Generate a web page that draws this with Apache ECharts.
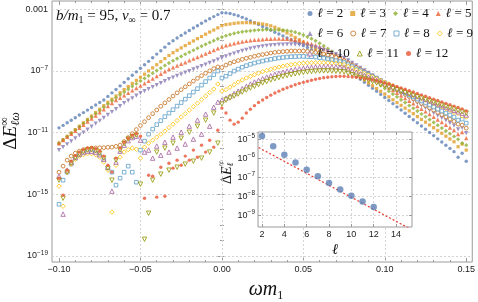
<!DOCTYPE html>
<html>
<head>
<meta charset="utf-8">
<script src="https://cdn.jsdelivr.net/npm/echarts@6/dist/echarts.min.js"></script>
<style>
  html, body { margin: 0; padding: 0; background: #fff; }
  #chart { width: 478px; height: 302px; }
</style>
</head>
<body>
<div id="chart"></div>
<script>
// omega * m1 sample grid
const omega = [-0.1,-0.0975,-0.095,-0.0925,-0.09,-0.0875,-0.085,-0.0825,-0.08,-0.0775,-0.075,-0.0725,-0.07,-0.0675,-0.065,-0.0625,-0.06,-0.0575,-0.055,-0.0525,-0.05,-0.0475,-0.045,-0.0425,-0.04,-0.0375,-0.035,-0.0325,-0.03,-0.0275,-0.025,-0.0225,-0.02,-0.0175,-0.015,-0.0125,-0.01,-0.0075,-0.005,-0.0025,0,0.0025,0.005,0.0075,0.01,0.0125,0.015,0.0175,0.02,0.0225,0.025,0.0275,0.03,0.0325,0.035,0.0375,0.04,0.0425,0.045,0.0475,0.05,0.0525,0.055,0.0575,0.06,0.0625,0.065,0.0675,0.07,0.0725,0.075,0.0775,0.08,0.0825,0.085,0.0875,0.09,0.0925,0.095,0.0975,0.1,0.1025,0.105,0.1075,0.11,0.1125,0.115,0.1175,0.12,0.1225,0.125,0.1275,0.13,0.1325,0.135,0.1375,0.14,0.1425,0.145,0.1475,0.15];

// log10 of Delta E_{l omega}, one array per l
const logE2 = [-10.70,-10.54,-10.37,-10.21,-10.04,-9.87,-9.71,-9.55,-9.38,-9.22,-9.05,-8.89,-8.66,-8.43,-8.21,-7.98,-7.75,-7.52,-7.29,-7.07,-6.84,-6.61,-6.39,-6.16,-5.92,-5.70,-5.47,-5.24,-5.06,-4.88,-4.71,-4.55,-4.39,-4.23,-4.08,-3.92,-3.77,-3.63,-3.49,-3.36,-3.24,
  -3.25,-3.29,-3.36,-3.44,-3.54,-3.65,-3.77,-3.88,-4.01,-4.13,-4.25,-4.37,-4.50,-4.62,-4.74,-4.87,-4.99,-5.11,-5.24,-5.37,-5.50,-5.63,-5.76,-5.90,-6.04,-6.18,-6.33,-6.49,-6.65,-6.82,-7.00,-7.18,-7.36,-7.55,-7.75,-7.94,-8.14,-8.33,-8.53,-8.73,-8.93,-9.13,-9.34,-9.54,-9.75,-9.96,-10.17,-10.37,-10.58,-10.79,-11.00,-11.20,-11.41,-11.62,-11.83,-12.03,-12.24,-12.60,-12.34,-12.86];
const logE3 = [-11.69,-11.47,-11.25,-11.03,-10.81,-10.59,-10.37,-10.15,-9.93,-9.71,-9.49,-9.26,-9.04,-8.84,-8.63,-8.42,-8.22,-8.02,-7.82,-7.62,-7.42,-7.22,-7.01,-6.81,-6.61,-6.41,-6.21,-6.01,-5.83,-5.67,-5.52,-5.37,-5.22,-5.07,-4.92,-4.78,-4.63,-4.49,-4.36,-4.22,-4.08,
  -4.01,-3.97,-3.93,-3.90,-3.89,-3.88,-3.89,-3.91,-3.93,-3.97,-4.02,-4.09,-4.18,-4.29,-4.41,-4.55,-4.69,-4.84,-4.99,-5.14,-5.29,-5.44,-5.59,-5.74,-5.89,-6.05,-6.20,-6.37,-6.53,-6.70,-6.88,-7.06,-7.24,-7.42,-7.60,-7.79,-7.97,-8.15,-8.33,-8.51,-8.69,-8.88,-9.06,-9.24,-9.42,-9.60,-9.78,-9.97,-10.15,-10.33,-10.51,-10.69,-10.87,-11.05,-11.24,-11.42,-11.60,-11.92,-11.75,-12.14];
const logE4 = [-11.69,-11.48,-11.26,-11.05,-10.84,-10.63,-10.41,-10.20,-9.99,-9.78,-9.58,-9.36,-9.15,-8.94,-8.75,-8.56,-8.38,-8.19,-8.01,-7.84,-7.66,-7.49,-7.33,-7.16,-6.99,-6.83,-6.66,-6.50,-6.35,-6.21,-6.07,-5.93,-5.80,-5.67,-5.54,-5.41,-5.29,-5.17,-5.05,-4.93,-4.82,
  -4.73,-4.65,-4.58,-4.52,-4.48,-4.44,-4.41,-4.38,-4.36,-4.35,-4.34,-4.34,-4.35,-4.36,-4.37,-4.39,-4.44,-4.50,-4.59,-4.69,-4.80,-4.92,-5.06,-5.22,-5.39,-5.57,-5.75,-5.93,-6.12,-6.31,-6.49,-6.68,-6.86,-7.04,-7.23,-7.41,-7.59,-7.77,-7.96,-8.14,-8.32,-8.51,-8.69,-8.88,-9.06,-9.25,-9.43,-9.61,-9.80,-9.98,-10.16,-10.35,-10.53,-10.71,-10.90,-11.08,-11.26,-11.44,-11.69,-11.82];
const logE5 = [-11.70,-11.49,-11.29,-11.09,-10.89,-10.70,-10.50,-10.30,-10.10,-9.90,-9.70,-9.50,-9.30,-9.10,-8.90,-8.75,-8.59,-8.44,-8.28,-8.13,-7.97,-7.82,-7.66,-7.51,-7.35,-7.20,-7.04,-6.89,-6.78,-6.67,-6.56,-6.45,-6.33,-6.22,-6.11,-6.00,-5.89,-5.78,-5.66,-5.55,-5.44,
  -5.36,-5.29,-5.22,-5.16,-5.11,-5.07,-5.03,-5.00,-4.98,-4.96,-4.94,-4.93,-4.92,-4.92,-4.93,-4.94,-4.96,-5.00,-5.05,-5.11,-5.18,-5.26,-5.35,-5.45,-5.56,-5.68,-5.80,-5.93,-6.06,-6.19,-6.36,-6.54,-6.71,-6.88,-7.05,-7.23,-7.40,-7.57,-7.74,-7.92,-8.09,-8.26,-8.43,-8.61,-8.78,-8.95,-9.12,-9.30,-9.47,-9.64,-9.81,-9.99,-10.16,-10.33,-10.50,-10.68,-10.85,-11.10,-10.98,-11.37];
const logE6 = [-12.14,-11.95,-11.76,-11.57,-11.38,-11.19,-11.00,-10.81,-10.62,-10.43,-10.24,-10.05,-9.86,-9.67,-9.48,-9.29,-9.10,-8.94,-8.78,-8.61,-8.45,-8.32,-8.19,-8.06,-7.93,-7.80,-7.67,-7.54,-7.44,-7.33,-7.23,-7.12,-7.02,-6.91,-6.81,-6.70,-6.60,-6.49,-6.39,-6.28,-6.18,
  -6.07,-5.97,-5.88,-5.79,-5.71,-5.64,-5.57,-5.51,-5.46,-5.42,-5.38,-5.35,-5.33,-5.31,-5.30,-5.29,-5.29,-5.30,-5.32,-5.35,-5.39,-5.44,-5.50,-5.57,-5.65,-5.74,-5.84,-5.94,-6.05,-6.16,-6.32,-6.49,-6.65,-6.81,-6.97,-7.14,-7.30,-7.46,-7.62,-7.79,-7.95,-8.11,-8.27,-8.44,-8.60,-8.76,-8.92,-9.09,-9.25,-9.41,-9.57,-9.74,-9.90,-10.06,-10.22,-10.39,-10.55,-10.80,-10.70,-11.04];
const logE7 = [-13.57,-13.18,-12.79,-12.53,-12.34,-12.21,-12.11,-12.05,-12.01,-12.00,-11.99,-11.98,-11.96,-11.95,-11.90,
  -11.82,-11.59,-11.33,-11.07,-10.81,-10.55,-10.30,-10.04,-9.78,-9.54,-9.30,-9.08,-8.86,-8.64,-8.43,-8.23,-8.04,-7.85,-7.67,-7.49,-7.32,-7.16,-7.01,-6.86,-6.75,-6.79,-6.63,
  -6.51,-6.42,-6.34,-6.26,-6.19,-6.13,-6.06,-6.00,-5.95,-5.90,-5.85,-5.81,-5.78,-5.76,-5.74,-5.72,-5.72,-5.72,-5.72,-5.74,-5.77,-5.81,-5.85,-5.91,-5.98,-6.06,-6.14,-6.24,-6.34,
  -6.49,-6.63,-6.78,-6.92,-7.07,-7.21,-7.36,-7.51,-7.66,-7.80,-7.95,-8.09,-8.24,-8.38,-8.53,-8.67,-8.82,-8.97,-9.12,-9.26,-9.41,-9.55,-9.70,-9.84,-9.99,-10.13,-10.28,-10.46,-10.52,-10.72];
const logE8 = [-15.65,-14.09,-13.57,-13.05,-12.69,-12.47,-12.34,-12.27,-12.27,-12.34,-12.50,-12.79,-13.31,-13.57,-14.41,-13.96,-13.57,-13.18,-13.57,-14.22,
  -12.14,-11.56,-11.11,-10.78,-10.49,-10.23,-9.97,-9.74,-9.52,-9.29,-9.06,-8.84,-8.61,-8.38,-8.16,-7.93,-7.70,-7.47,-7.25,-7.02,
  -7.47,-7.35,-7.18,-7.02,-6.89,-6.77,-6.67,-6.58,-6.50,-6.43,-6.37,-6.31,-6.26,-6.21,-6.17,-6.14,-6.11,-6.09,-6.08,-6.07,-6.07,-6.08,-6.09,-6.11,-6.15,-6.18,-6.23,-6.28,-6.34,-6.40,-6.47,
  -6.60,-6.73,-6.87,-6.99,-7.12,-7.25,-7.38,-7.52,-7.65,-7.78,-7.91,-8.04,-8.17,-8.30,-8.43,-8.56,-8.69,-8.83,-8.96,-9.09,-9.22,-9.35,-9.49,-9.61,-9.74,-9.87,-10.00,-10.20,-10.13,-10.39];
const logE9 = [-14.48,-15.78,-13.57,-13.05,-12.73,-12.53,-12.44,-12.37,-12.37,-12.44,-12.60,-12.92,-13.44,-16.16,-13.12,-12.60,-12.27,-12.11,-12.01,-12.08,
  -12.66,-11.95,-11.69,-11.50,-11.30,-11.11,-10.91,-10.68,-10.46,-10.23,-10.00,-9.78,-9.55,-9.32,-9.10,-8.87,-8.64,-8.41,-8.19,-7.86,
  -8.32,-8.22,-8.06,-7.90,-7.73,-7.60,-7.47,-7.36,-7.25,-7.15,-7.06,-6.98,-6.90,-6.83,-6.76,-6.70,-6.65,-6.61,-6.57,-6.53,-6.51,-6.49,-6.48,-6.47,-6.47,-6.48,-6.49,-6.51,-6.53,-6.57,-6.61,
  -6.72,-6.84,-6.95,-7.06,-7.18,-7.29,-7.40,-7.52,-7.63,-7.75,-7.86,-7.97,-8.09,-8.20,-8.31,-8.43,-8.54,-8.65,-8.77,-8.88,-8.99,-9.11,-9.22,-9.33,-9.45,-9.56,-9.70,-9.75,-9.93,-10.00];
const logE10 = [-13.83,-16.29,-13.44,-12.92,-12.60,-12.40,-12.27,-12.21,-12.21,-12.27,-12.44,-12.73,-13.25,-14.80,-12.92,-12.21,-11.82,-11.53,-11.33,-11.24,
  -11.50,-12.27,-12.14,-12.66,-11.88,-12.47,-11.63,-12.27,-11.30,-12.01,-10.98,-11.75,-10.59,-11.43,-10.20,-11.11,-9.81,-10.59,-9.36,-9.03,
  -8.90,-8.77,-8.64,-8.48,-8.32,-8.16,-8.01,-7.86,-7.73,-7.62,-7.51,-7.41,-7.32,-7.23,-7.16,-7.09,-7.02,-6.96,-6.91,-6.87,-6.83,-6.79,-6.77,-6.75,-6.74,-6.73,-6.73,-6.74,-6.75,-6.77,-6.79,
  -6.89,-7.00,-7.10,-7.20,-7.30,-7.41,-7.51,-7.61,-7.71,-7.82,-7.92,-8.02,-8.12,-8.23,-8.33,-8.43,-8.53,-8.64,-8.74,-8.84,-8.94,-9.05,-9.15,-9.25,-9.35,-9.46,-9.56,-9.66,-9.76,-9.87];
const logE11 = [-14.09,-15.26,-13.57,-12.99,-12.63,-12.40,-12.24,-12.14,-12.11,-12.18,-12.34,-12.66,-13.31,-14.09,-12.79,-12.14,-11.72,-11.43,-11.27,-11.17,
  -14.35,-17.92,-16.23,-14.09,-12.27,-13.70,-12.01,-13.44,-11.69,-13.25,-11.37,-13.05,-10.98,-12.86,-10.59,-12.66,-10.20,-12.27,-9.74,-11.69,
  -9.16,-8.90,-8.77,-8.64,-8.51,-8.38,-8.25,-8.12,-8.01,-7.90,-7.79,-7.70,-7.60,-7.52,-7.44,-7.37,-7.31,-7.25,-7.20,-7.15,-7.11,-7.08,-7.05,-7.03,-7.02,-7.01,-7.01,-7.02,-7.03,-7.05,-7.08,
  -7.17,-7.26,-7.35,-7.44,-7.52,-7.61,-7.70,-7.79,-7.88,-7.97,-8.06,-8.15,-8.23,-8.32,-8.41,-8.50,-8.59,-8.68,-8.77,-8.86,-8.95,-9.03,-9.12,-9.21,-9.30,-9.39,-9.48,-9.57,-9.66,-9.74];
const logE12 = [-13.96,-15.06,-13.44,-12.86,-12.50,-12.27,-12.11,-12.01,-11.98,-12.05,-12.21,-12.53,-13.12,-13.57,-12.66,-12.01,-11.63,-11.37,-11.17,-11.07,
  -11.24,-15.26,-13.77,-13.83,-15.19,-13.25,-15.13,-12.99,-13.31,-12.79,-13.12,-12.53,-12.79,-12.14,-12.60,-11.82,-12.27,-11.50,-11.95,-10.85,
  -9.42,-9.74,-10.20,-10.46,-10.33,-10.07,-9.74,-9.49,-9.26,-9.06,-8.89,-8.73,-8.58,-8.44,-8.32,-8.20,-8.10,-8.00,-7.91,-7.82,-7.75,-7.68,-7.61,-7.55,-7.50,-7.45,-7.42,-7.39,-7.37,-7.36,-7.36,
  -7.38,-7.40,-7.42,-7.45,-7.49,-7.54,-7.59,-7.65,-7.71,-7.79,-7.86,-7.94,-8.03,-8.11,-8.20,-8.29,-8.38,-8.47,-8.56,-8.65,-8.75,-8.84,-8.93,-9.02,-9.11,-9.20,-9.29,-9.38,-9.47,-9.61];

const ells = [2, 3, 4, 5, 6, 7, 8, 9, 10, 11, 12];
const seriesLogs = [logE2, logE3, logE4, logE5, logE6, logE7, logE8, logE9, logE10, logE11, logE12];

// inset: total Delta E_l vs l, and the fitted line
const insetEll = [2, 3, 4, 5, 6, 7, 8, 9, 10, 11, 12];
const insetLogE = [-4.84, -5.38, -5.83, -6.23, -6.62, -6.96, -7.32, -7.65, -7.99, -8.29, -8.58];
const fitEll = [1.7, 15.4];
const fitLogE = [-5.45, -9.77];

// tick positions
const xMajor = [-0.1, -0.05, 0, 0.05, 0.1, 0.15];
const xMinor = [-0.1,-0.09,-0.08,-0.07,-0.06,-0.05,-0.04,-0.03,-0.02,-0.01,0,0.01,0.02,0.03,0.04,0.05,0.06,0.07,0.08,0.09,0.1,0.11,0.12,0.13,0.14,0.15];
const yMajor = [-19, -15, -11, -7, -3];
const yMinor = [-19,-18,-17,-16,-15,-14,-13,-12,-11,-10,-9,-8,-7,-6,-5,-4,-3];
const xGridLines = [-0.05, 0, 0.05, 0.1];
const yGridLines = [-19, -15, -11, -7, -3];
const insetXMajor = [2, 4, 6, 8, 10, 12, 14];
const insetYMajor = [-9, -8, -7, -6, -5];

const colors = ['#5E81B5','#E19C24','#8FB032','#EB6235','#8778B3','#C56E1A','#5D9EC7','#FFBF00','#A5609D','#929600','#E95536'];
const shapes = [
  { symbol: 'circle', size: 3.4, rot: 0, open: false },
  { symbol: 'rect', size: 3.2, rot: 0, open: false },
  { symbol: 'diamond', size: 4.2, rot: 0, open: false },
  { symbol: 'triangle', size: 4.2, rot: 0, open: false },
  { symbol: 'triangle', size: 4.2, rot: 180, open: false },
  { symbol: 'circle', size: 3.8, rot: 0, open: true },
  { symbol: 'rect', size: 3.6, rot: 0, open: true },
  { symbol: 'diamond', size: 4.4, rot: 0, open: true },
  { symbol: 'triangle', size: 4.4, rot: 0, open: true },
  { symbol: 'triangle', size: 4.4, rot: 180, open: true },
  { symbol: 'circle', size: 3.4, rot: 0, open: false }
];

const frameColor = '#9a9a9a';
const gridColor = '#d4d4d4';
const sans = '"Liberation Sans", Arial, sans-serif';
const serif = '"Liberation Serif", "DejaVu Serif", serif';

const chart = echarts.init(document.getElementById('chart'), null, { renderer: 'canvas' });

function fmtX(v) {
  if (Math.abs(v) < 1e-9) return '0.00';
  return (v < 0 ? '\u2212' : '') + Math.abs(v).toFixed(2);
}
function fmtPow(v) {
  if (v === -3) return '0.001';
  return '{b|10}{s|\u2212' + (-v) + '}';
}
const powRich = {
  b: { fontFamily: sans, fontSize: 9, lineHeight: 12, color: '#222' },
  s: { fontFamily: sans, fontSize: 6.5, lineHeight: 5, verticalAlign: 'top', color: '#222' }
};

function tickAxis(o) {
  return {
    type: 'value', gridIndex: o.grid, position: o.pos, min: o.min, max: o.max,
    z: o.z || 0,
    axisLine: { show: false },
    splitLine: { show: false },
    axisTick: { show: true, inside: true, length: o.len, customValues: o.ticks, lineStyle: { color: frameColor, width: 1 } },
    axisLabel: o.labels ? {
      show: true, customValues: o.labels, formatter: o.fmt, margin: o.margin,
      fontFamily: sans, fontSize: 9, color: '#222', rich: powRich
    } : { show: false }
  };
}

const xMin = -0.1043, xMax = 0.1537, yMin = -19.39, yMax = -2.48;
const ixMin = 1.64, ixMax = 15.43, iyMin = -9.63, iyMax = -4.63;

const xAxes = [
  tickAxis({ grid: 0, pos: 'bottom', min: xMin, max: xMax, len: 4, ticks: xMajor, labels: xMajor, fmt: fmtX, margin: 3 }),
  tickAxis({ grid: 0, pos: 'bottom', min: xMin, max: xMax, len: 2, ticks: xMinor }),
  tickAxis({ grid: 0, pos: 'top', min: xMin, max: xMax, len: 4, ticks: xMajor }),
  tickAxis({ grid: 0, pos: 'top', min: xMin, max: xMax, len: 2, ticks: xMinor }),
  tickAxis({ grid: 1, pos: 'bottom', min: ixMin, max: ixMax, len: 3, ticks: insetXMajor, labels: insetXMajor, fmt: v => String(v), margin: 3, z: 6 }),
  tickAxis({ grid: 1, pos: 'top', min: ixMin, max: ixMax, len: 3, ticks: insetXMajor, z: 6 })
];
const yAxes = [
  tickAxis({ grid: 0, pos: 'left', min: yMin, max: yMax, len: 4, ticks: yMajor, labels: yMajor, fmt: fmtPow, margin: 4 }),
  tickAxis({ grid: 0, pos: 'left', min: yMin, max: yMax, len: 2, ticks: yMinor }),
  tickAxis({ grid: 0, pos: 'right', min: yMin, max: yMax, len: 4, ticks: yMajor }),
  tickAxis({ grid: 0, pos: 'right', min: yMin, max: yMax, len: 2, ticks: yMinor }),
  tickAxis({ grid: 1, pos: 'left', min: iyMin, max: iyMax, len: 3, ticks: insetYMajor, labels: insetYMajor, fmt: fmtPow, margin: 3, z: 6 }),
  tickAxis({ grid: 1, pos: 'right', min: iyMin, max: iyMax, len: 3, ticks: insetYMajor, z: 6 })
];

const series = [];
// dashed grid lines of the main frame
series.push({
  type: 'line', xAxisIndex: 0, yAxisIndex: 0, data: [], silent: true, z: 1,
  markLine: {
    z: 1, silent: true, symbol: ['none', 'none'], label: { show: false }, animation: false,
    lineStyle: { color: gridColor, type: [2, 2], width: 1 },
    data: xGridLines.map(v => ({ xAxis: v })).concat(yGridLines.map(v => ({ yAxis: v })))
  }
});

const legendData = [];
ells.forEach((l, k) => {
  const s = shapes[k], c = colors[k];
  const name = '\u2113 = ' + l;
  const style = s.open ? { color: '#fff', borderColor: c, borderWidth: 1 } : { color: c, borderWidth: 0 };
  series.push({
    type: 'scatter', name: name, xAxisIndex: 0, yAxisIndex: 0,
    symbol: s.symbol, symbolSize: s.size, symbolRotate: s.rot,
    itemStyle: style, silent: true, z: 2,
    data: omega.map((w, i) => [w, seriesLogs[k][i]])
  });
  legendData.push({ name: name, itemStyle: style });
});

// inset grid lines
series.push({
  type: 'line', xAxisIndex: 4, yAxisIndex: 4, data: [], silent: true, z: 6,
  markLine: {
    z: 6, silent: true, symbol: ['none', 'none'], label: { show: false }, animation: false,
    lineStyle: { color: gridColor, type: [2, 2], width: 1 },
    data: insetXMajor.map(v => ({ xAxis: v })).concat(insetYMajor.map(v => ({ yAxis: v })))
  }
});
series.push({
  type: 'line', xAxisIndex: 4, yAxisIndex: 4, z: 7, silent: true, symbol: 'none',
  lineStyle: { color: '#e8392f', type: [2, 2], width: 1.2 },
  data: fitEll.map((l, i) => [l, fitLogE[i]])
});
series.push({
  type: 'scatter', xAxisIndex: 4, yAxisIndex: 4, z: 8, silent: true,
  symbol: 'circle', symbolSize: 6.5, itemStyle: { color: '#5E81B5' },
  data: insetEll.map((l, i) => [l, insetLogE[i]])
});

// math-style labels built from measured text pieces
const measureCtx = document.createElement('canvas').getContext('2d');
function pieceFont(p) { return (p.it ? 'italic ' : '') + p.size + 'px ' + serif; }
function mathLabel(pieces, x, y, rotation, anchor) {
  let cx = 0, prevStart = 0, prevW = 0;
  const kids = [];
  pieces.forEach(p => {
    const font = pieceFont(p);
    measureCtx.font = font;
    const w = measureCtx.measureText(p.t).width;
    const start = p.stack ? prevStart : cx;
    kids.push({ type: 'text', x: start, y: p.dy || 0,
      style: { text: p.t, font: font, fill: '#111', align: 'left', verticalAlign: 'middle', textAlign: 'left', textVerticalAlign: 'middle' } });
    if (p.stack) { cx = prevStart + Math.max(prevW, w); }
    else { prevStart = start; prevW = w; cx = start + w; }
  });
  kids.forEach(k => { k.x -= cx * anchor; });
  return { type: 'group', x: x, y: y, rotation: rotation, z: 20, children: kids };
}

const graphics = [
  mathLabel([
    { t: 'b/m', it: true, size: 15 }, { t: '1', size: 10, dy: 4 },
    { t: ' = 95, ', size: 15 }, { t: 'v', it: true, size: 15 }, { t: '\u221e', size: 10, dy: 4 },
    { t: ' = 0.7', size: 15 }
  ], 56, 16.5, 0, 0),
  mathLabel([
    { t: '\u03c9m', it: true, size: 20 }, { t: '1', size: 12, dy: 6 }
  ], 266, 290, 0, 0.5),
  mathLabel([
    { t: '\u0394', size: 19 }, { t: 'E', it: true, size: 19 },
    { t: '\u221e', size: 12, dy: -6 }, { t: '\u2113\u03c9', it: true, size: 12, dy: 5, stack: true }
  ], 11, 131, Math.PI / 2, 0.5),
  mathLabel([
    { t: '\u0394', size: 14 }, { t: 'E', it: true, size: 14 },
    { t: '\u221e', size: 9, dy: -5 }, { t: '\u2113', it: true, size: 9, dy: 4, stack: true }
  ], 227, 172, Math.PI / 2, 0.5),
  mathLabel([{ t: '\u2113', it: true, size: 15 }], 335, 250, 0, 0.5)
];

chart.setOption({
  animation: false,
  backgroundColor: '#fff',
  grid: [
    { left: 52, top: 1, right: 5, bottom: 40, show: true, borderColor: frameColor, borderWidth: 1, backgroundColor: 'transparent', z: 0 },
    { left: 258, top: 132, right: 66, bottom: 75, show: true, borderColor: frameColor, borderWidth: 1, backgroundColor: '#fff', z: 5 }
  ],
  xAxis: xAxes,
  yAxis: yAxes,
  legend: {
    data: legendData,
    left: 307, top: 7, width: 171, padding: 0,
    itemWidth: 5, itemHeight: 5, itemGap: 7,
    symbolRotate: 'inherit',
    formatter: name => '{i|\u2113}' + name.slice(1),
    textStyle: { fontFamily: serif, fontSize: 13, color: '#111', lineHeight: 10,
      rich: { i: { fontFamily: serif, fontStyle: 'italic', fontSize: 13, lineHeight: 10 } } }
  },
  graphic: graphics,
  series: series
});
</script>
</body>
</html>
